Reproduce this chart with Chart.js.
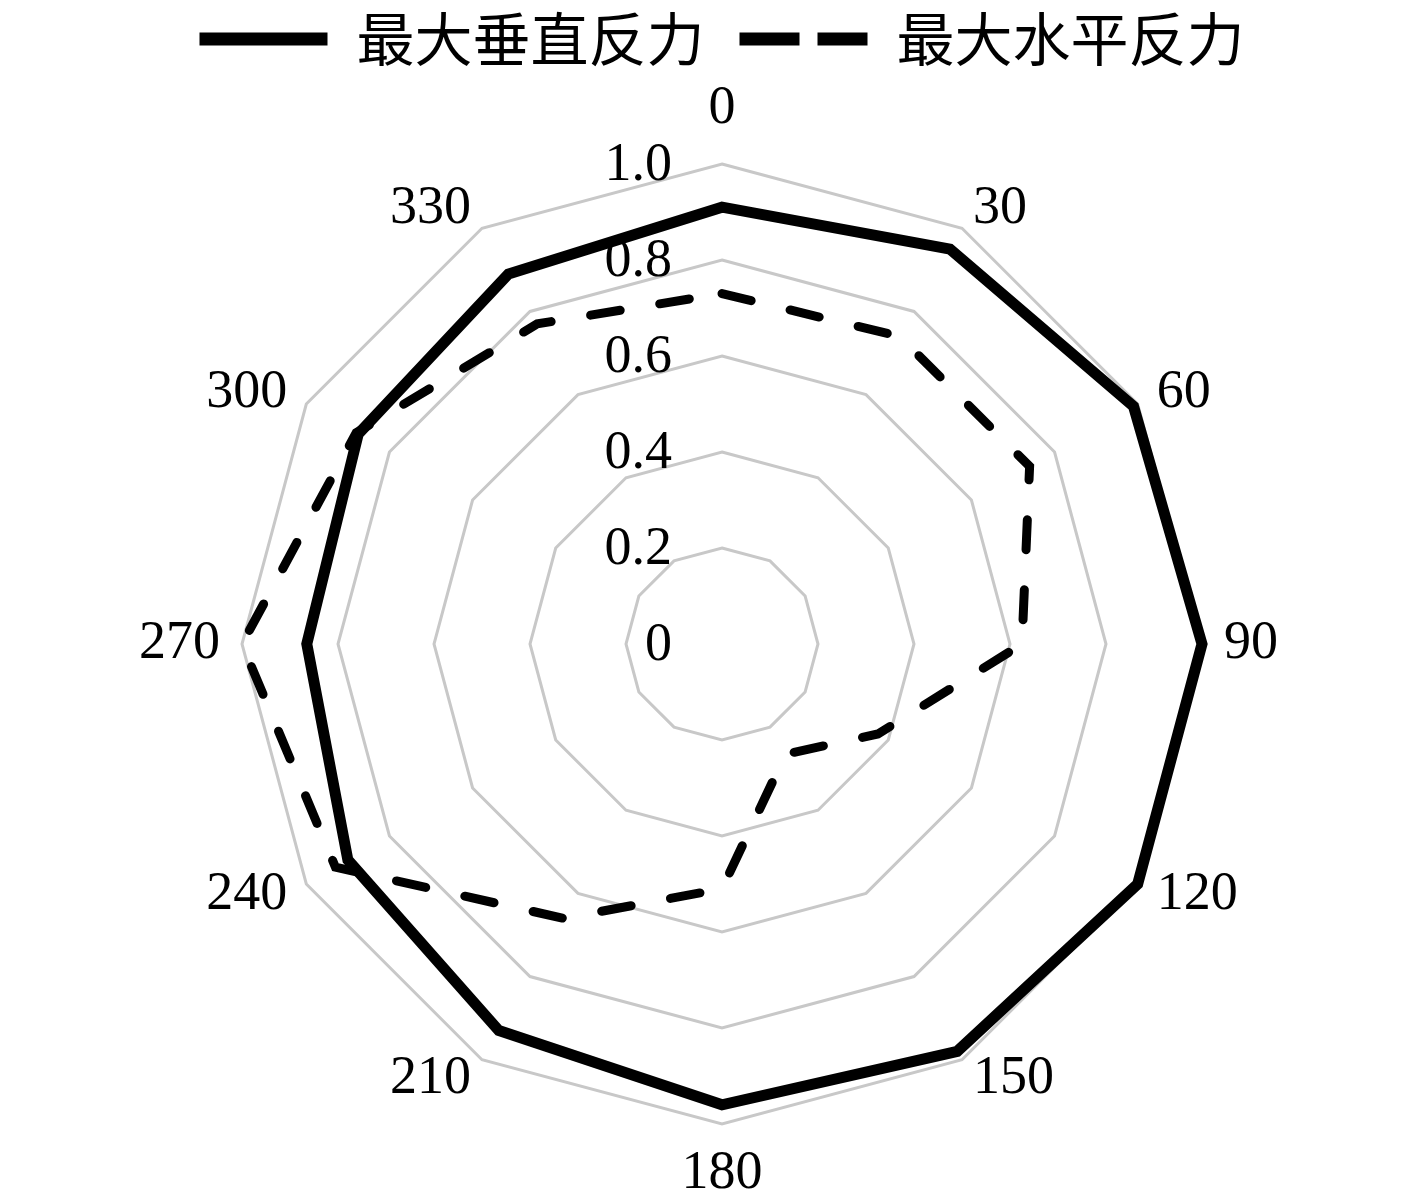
<!DOCTYPE html>
<html>
<head>
<meta charset="utf-8">
<script src="https://cdn.jsdelivr.net/npm/chart.js@4.4.1/dist/chart.umd.min.js"></script>
<style>
  html, body { margin: 0; padding: 0; background: #fff; }
  canvas { display: block; }
</style>
</head>
<body>
<canvas id="myChart" width="1417" height="1200"></canvas>
<script>
let angles = ['0','30','60','90','120','150','180','210','240','270','300','330'];
let vertical = [0.91,0.95,0.99,1.0,1.0,0.98,0.96,0.93,0.90,0.865,0.875,0.89];
let horizontal = [0.73,0.74,0.74,0.625,0.375,0.265,0.51,0.66,0.93,1.0,0.88,0.77];
let tickValues = [0,0.2,0.4,0.6,0.8,1.0];
let tickLabels = ['0','0.2','0.4','0.6','0.8','1.0'];
let seriesNames = ['最大垂直反力','最大水平反力'];

let numFont = '54px "Liberation Serif", "Times New Roman", serif';

// extra room under the legend
let legendSpace = {
  id:'legendSpace',
  beforeInit(chart){
    let fit = chart.legend.fit;
    chart.legend.fit = function(){
      fit.bind(chart.legend)();
      this.height += 86;
    };
  }
};

// value labels left of the vertical axis, angle labels round the outside
let radarText = {
  id:'radarText',
  afterDraw(chart){
    let s = chart.scales.r;
    let ctx = chart.ctx;
    ctx.save();
    ctx.font = numFont;
    ctx.fillStyle = '#000';
    ctx.textBaseline = 'middle';
    ctx.textAlign = 'right';
    tickValues.forEach((v,i)=>{
      let y = s.yCenter - s.getDistanceFromCenterForValue(v);
      ctx.fillText(tickLabels[i], s.xCenter - 50, y + 2);
    });
    angles.forEach((a,i)=>{
      let deg = i*360/angles.length;
      let p = s.getPointPosition(i, s.drawingArea + 22);
      let y = p.y;
      if(deg === 0){ ctx.textAlign='center'; y -= 33; }
      else if(deg === 180){ ctx.textAlign='center'; y += 28; }
      else if(deg < 180){ ctx.textAlign='left'; }
      else { ctx.textAlign='right'; }
      ctx.fillText(a, p.x, y);
    });
    ctx.restore();
  }
};

let chart = new Chart(document.getElementById('myChart').getContext('2d'), {
  type:'radar',
  data:{
    labels:angles,
    datasets:[{
      label:seriesNames[0],
      data:vertical,
      borderColor:'#000',
      backgroundColor:'rgba(0,0,0,0)',
      borderWidth:11,
      fill:false,
      pointRadius:0
    },{
      label:seriesNames[1],
      data:horizontal,
      borderColor:'#000',
      backgroundColor:'rgba(0,0,0,0)',
      borderWidth:9,
      borderDash:[30,40],
      borderCapStyle:'round',
      fill:false,
      pointRadius:0
    }]
  },
  options:{
    responsive:false,
    animation:false,
    layout:{padding:{left:27,right:0,top:-25,bottom:76}},
    plugins:{
      legend:{
        position:'top',
        labels:{
          usePointStyle:true,
          pointStyle:'line',
          pointStyleWidth:128,
          padding:35,
          color:'#000',
          font:{family:'"Noto Sans CJK SC"', size:58},
          generateLabels(chart){
            return Chart.defaults.plugins.legend.labels.generateLabels(chart).map((item,i)=>{
              item.lineWidth = 13;
              item.lineDash = i ? [60,18] : [];
              return item;
            });
          }
        }
      },
      tooltip:{enabled:false}
    },
    scales:{
      r:{
        min:0,
        max:1,
        ticks:{display:false, stepSize:0.2},
        pointLabels:{display:false},
        angleLines:{display:false},
        grid:{color:'#c8c8c8', lineWidth:3}
      }
    }
  },
  plugins:[legendSpace, radarText]
});
</script>
</body>
</html>
